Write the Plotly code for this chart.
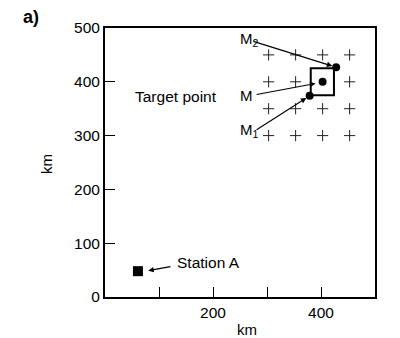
import plotly.graph_objects as go

# grid of candidate points (+)
plus_x = [303, 353, 403, 453, 303, 353, 453, 303, 353, 403, 453, 303, 353, 403, 453]
plus_y = [450, 450, 450, 450, 400, 400, 400, 350, 350, 350, 350, 300, 300, 300, 300]

# target point M and neighbours M2, M1
m_labels = ["M<sub>2</sub>", "M", "M<sub>1</sub>"]
dots_x = [428, 403, 379]
dots_y = [427, 400, 374]
box_x = [381, 424]
box_y = [375, 425]

# station
station_x, station_y = 61, 48

# label anchor positions (km) and arrow tails / tips
label_x = [246, 246, 246]
label_y = [478, 375, 310]
arrow_tail_x = [272, 278, 278, 124]
arrow_tail_y = [476, 376, 309, 57]
arrow_head_x = [428, 390, 379, 80]
arrow_head_y = [427, 397, 374, 49]
arrow_standoff = [4, 0, 4, 0]

x_ticks = [200, 400]
x_minor_ticks = [100, 300]
y_ticks = [0, 100, 200, 300, 400, 500]

FONT = "Liberation Sans, Arial, sans-serif"

W, H = 400, 338
L, R, T, B = 105, 25, 28, 41
pw, ph = W - L - R, H - T - B


def px_to_paper(px, py):
    return (px - L) / pw, (H - B - py) / ph


fig = go.Figure()
fig.add_trace(go.Scatter(x=plus_x, y=plus_y, mode="markers",
                         marker=dict(symbol="cross-thin", size=8, line=dict(width=1, color="#222")),
                         hoverinfo="skip"))
fig.add_trace(go.Scatter(x=dots_x, y=dots_y, mode="markers",
                         marker=dict(symbol="circle", size=8, color="black"), hoverinfo="skip"))
fig.add_trace(go.Scatter(x=[station_x], y=[station_y], mode="markers",
                         marker=dict(symbol="square", size=10, color="black"), hoverinfo="skip"))

fig.add_shape(type="rect", xref="x", yref="y", x0=box_x[0], x1=box_x[1], y0=box_y[0], y1=box_y[1],
              line=dict(color="black", width=2))

anns = []
for tx, ty, hx, hy, so in zip(arrow_tail_x, arrow_tail_y, arrow_head_x, arrow_head_y, arrow_standoff):
    anns.append(dict(x=hx, y=hy, ax=tx, ay=ty, xref="x", yref="y", axref="x", ayref="y",
                     text="", showarrow=True, arrowhead=2, arrowsize=1, arrowwidth=1.1,
                     standoff=so, arrowcolor="black"))
for t, lx, ly in zip(m_labels, label_x, label_y):
    anns.append(dict(x=lx, y=ly, xref="x", yref="y", text=t, showarrow=False,
                     xanchor="left", yanchor="middle", font=dict(size=15, color="black", family=FONT)))
anns.append(dict(x=52, y=372, xref="x", yref="y", text="Target point", showarrow=False,
                 xanchor="left", yanchor="middle", font=dict(size=15.5, color="black", family=FONT)))
anns.append(dict(x=130, y=65, xref="x", yref="y", text="Station A", showarrow=False,
                 xanchor="left", yanchor="middle", font=dict(size=15.5, color="black", family=FONT)))

ax_, ay_ = px_to_paper(31, 17)
anns.append(dict(x=ax_, y=ay_, xref="paper", yref="paper", text="<b>a)</b>", showarrow=False,
                 xanchor="center", yanchor="middle", font=dict(size=18, color="black", family=FONT)))
kx, ky = px_to_paper(247, 329)
anns.append(dict(x=kx, y=ky, xref="paper", yref="paper", text="km", showarrow=False,
                 xanchor="center", yanchor="middle", font=dict(size=15, color="black", family=FONT)))
kx, ky = px_to_paper(46, 164)
anns.append(dict(x=kx, y=ky, xref="paper", yref="paper", text="km", showarrow=False, textangle=-90,
                 xanchor="center", yanchor="middle", font=dict(size=15, color="black", family=FONT)))

fig.update_layout(
    width=W, height=H, margin=dict(l=L, r=R, t=T, b=B),
    paper_bgcolor="white", plot_bgcolor="white", showlegend=False,
    font=dict(family=FONT, size=15, color="black"),
    annotations=anns,
    xaxis=dict(range=[0, 500], tickvals=x_ticks, ticks="inside", ticklen=10,
               tickwidth=1, tickcolor="black", showgrid=False, zeroline=False, showline=True,
               linecolor="black", linewidth=2, mirror=True, tickfont=dict(size=15.5),
               minor=dict(tickvals=x_minor_ticks, ticks="inside", ticklen=10, tickwidth=1,
                          tickcolor="black", showgrid=False)),
    yaxis=dict(range=[0, 500], tickvals=y_ticks, ticks="inside", ticklen=10, tickwidth=1,
               tickcolor="black", showgrid=False, zeroline=False, showline=True,
               linecolor="black", linewidth=2, mirror=True, tickfont=dict(size=15.5)),
)

fig.write_html("out.html")
